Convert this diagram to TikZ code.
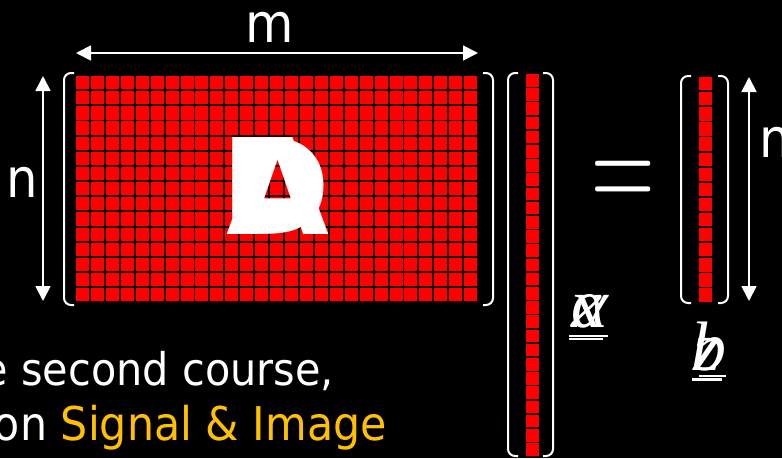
\documentclass[tikz,border=0pt]{standalone}
\usepackage{fontspec}
\setmainfont{DejaVu Sans}
\newfontfamily\tah[FakeStretch=0.92]{DejaVu Sans}
\newfontfamily\tahbig{DejaVu Sans}
\newfontfamily\ser{Liberation Serif}
\newfontfamily\lmr{Latin Modern Roman}
\usetikzlibrary{arrows.meta}
\definecolor{gold}{HTML}{FFC000}
\definecolor{cellred}{HTML}{FF0000}
\definecolor{gapred}{HTML}{1A0000}
\begin{document}
\begin{tikzpicture}[x=1pt,y=-1pt,
  dim/.style={white, line width=1.8pt, {Triangle[length=15pt,width=15pt]}-{Triangle[length=15pt,width=15pt]}},
  brk/.style={white, line width=2pt, rounded corners=7pt},
  cell/.style={fill=cellred},
  gap/.style={fill=gapred},
  lbl/.style={text=white, inner sep=0pt, font=\tah\fontsize{54}{60}\selectfont},
  txt/.style={text=white, inner sep=0pt, font=\tah\fontsize{46.5}{54}\selectfont},
  big/.style={text=white, inner sep=0pt, font=\tahbig\bfseries\fontsize{133}{140}\selectfont},
  vec/.style={text=white, inner sep=0pt, font=\ser\itshape\fontsize{70}{72}\selectfont},
  uline/.style={white, line width=2.2pt},
]
\fill[black] (0,0) rectangle (782,458);
\useasboundingbox (0,0) rectangle (782,458);
\clip (0,0) rectangle (782,458);

% matrix A
\fill[gap] (76,76) rectangle (478,303);
\foreach \i in {0,...,26} \foreach \j in {0,...,14}
  \fill[cell] ({76+14.93*\i},{76+15.15*\j}) rectangle ++(13,13.2);
% vector x
\fill[gap] (525.7,74) rectangle (539.3,458);
\foreach \j in {0,...,26}
  \fill[cell] (525.7,{74+14.2*\j}) rectangle ++(13.6,12.6);
% vector b
\fill[gap] (699,77) rectangle (712.3,303);
\foreach \j in {0,...,14}
  \fill[cell] (699,{77+15.1*\j}) rectangle ++(13.3,13.3);

% brackets
\draw[brk] (74,73) -- (64,73) -- (64,305) -- (74,305);
\draw[brk] (483,73) -- (493,73) -- (493,305) -- (483,305);
\draw[brk] (518,73) -- (508,73) -- (508,456) -- (518,456);
\draw[brk] (543,73) -- (553,73) -- (553,456) -- (543,456);
\draw[brk] (691,76) -- (681,76) -- (681,303) -- (691,303);
\draw[brk] (718,76) -- (728,76) -- (728,303) -- (718,303);

% dimension arrows
\coordinate (mL) at (76,53);
\coordinate (mR) at (478,53);
\coordinate (nT) at (43,76);
\coordinate (nB) at (43,301);
\coordinate (n2T) at (749,77);
\coordinate (n2B) at (749,301);
\draw[dim] (mL) -- (mR);
\draw[dim] (nT) -- (nB);
\draw[dim] (n2T) -- (n2B);

\node[lbl, anchor=base] (m) at (270,42) {m};
\node[lbl, anchor=base] (n1) at (22,197) {n};
\node[lbl, anchor=base west] (n2) at (759,157) {n};

% overlapping letters
\node[big, anchor=base] (D) at (276,234) {D};
\node[big, anchor=base] (A) at (278,234) {A};

% equals
\node[text=white, inner sep=0pt, font=\lmr\fontsize{80}{80}\selectfont, anchor=center] (eq) at (623,187) {\scalebox{1.1}[1.8]{=}};

% x / alpha
\node[vec, anchor=base] (x) at (587,327) {x};
\node[vec, anchor=base] (al) at (590,327) {α};
\draw[uline] (569,336) -- (608,336);
\draw[uline] (569,339) -- (603,339);
% b / z
\node[vec, anchor=base] (b) at (709,370) {b};
\node[vec, anchor=base] (z) at (707,370) {z};
\draw[uline] (699,376) -- (726,376);
\draw[uline] (692,379.5) -- (722,379.5);

% text
\node[txt, anchor=base east, font=\tah\fontsize{45}{54}\selectfont] (t1) at (334,385) {e second course,};
\node[txt, anchor=base east] (t2) at (387,440) {on \textcolor{gold}{Signal \& Image}};
\end{tikzpicture}
\end{document}
